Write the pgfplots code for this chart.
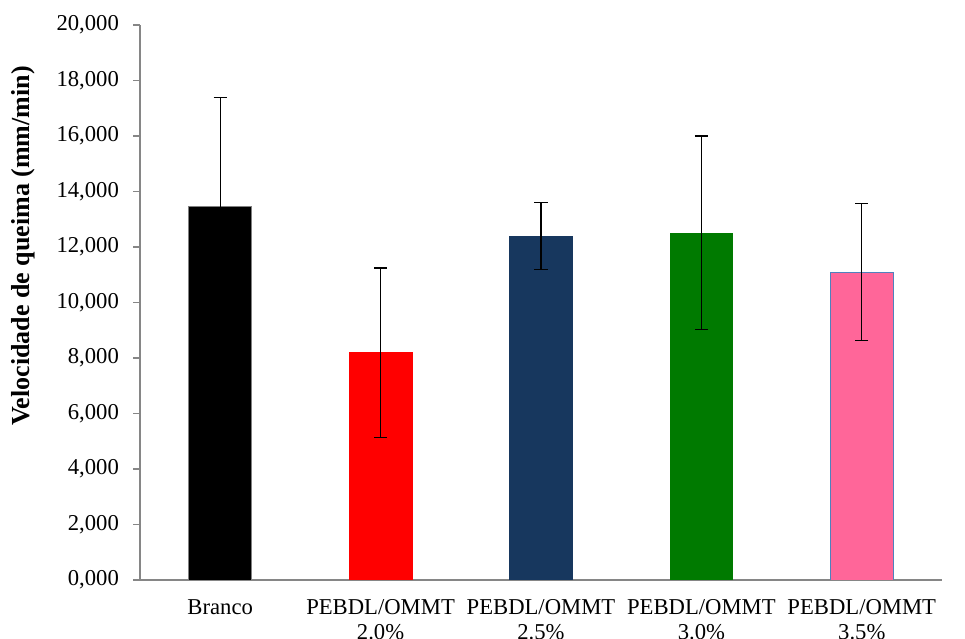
\documentclass[border=0pt]{standalone}
\usepackage{pgfplots}
\pgfplotsset{compat=1.18}
\usepackage{fontspec}
\setmainfont{Liberation Serif}
\definecolor{axgray}{RGB}{134,134,134}
\definecolor{cnavy}{RGB}{23,55,94}
\definecolor{cgreen}{RGB}{0,122,0}
\definecolor{cpink}{RGB}{255,102,153}
\definecolor{cpinkedge}{RGB}{79,129,189}
\begin{document}
\fontsize{17}{19}\selectfont
\begin{tikzpicture}
\begin{axis}[
  name=ax,
  scale only axis,
  width=601.5pt, height=416.25pt,
  xmin=-0.5, xmax=4.5,
  ymin=0, ymax=20,
  ytick distance=2,
  xtick={0,1,2,3,4},
  xticklabels={Branco, {PEBDL/OMMT\\2.0\%}, {PEBDL/OMMT\\2.5\%}, {PEBDL/OMMT\\3.0\%}, {PEBDL/OMMT\\3.5\%}},
  xticklabel style={align=center, font=\fontsize{17}{18.5}\selectfont, yshift=-4pt},
  x tick style={draw=none},
  axis x line*=bottom, axis y line*=left,
  axis line style={draw=axgray, line width=0.9pt},
  y tick style={draw=axgray, line width=0.9pt},
  tick align=outside, major tick length=5pt,
  yticklabel style={font=\fontsize{17}{19}\selectfont, xshift=-5pt, /pgf/number format/.cd, fixed, fixed zerofill, precision=3, use comma, 1000 sep={}},
  /pgf/number format/assume math mode=true,
  ylabel={\bfseries Velocidade de queima (mm/min)},
  ylabel style={at={(axis description cs:-0.146,0.602)}, anchor=center, font=\fontsize{19.5}{21}\selectfont},
  ybar, bar width=47pt, /pgf/bar shift=0pt,
  error bars/y dir=both, error bars/y explicit,
  error bars/error bar style={black, line width=0.9pt},
  error bars/error mark options={rotate=90, mark size=4.9pt, black, line width=0.9pt},
]
\addplot[fill=black, draw=gray, line width=0.6pt] coordinates {(0,13.46) +- (0,3.94)};
\addplot[fill=red, draw=red] coordinates {(1,8.19) +- (0,3.05)};
\addplot[fill=cnavy, draw=cnavy] coordinates {(2,12.39) +- (0,1.20)};
\addplot[fill=cgreen, draw=cgreen] coordinates {(3,12.51) +- (0,3.49)};
\addplot[fill=cpink, draw=cpinkedge, line width=0.6pt] coordinates {(4,11.09) +- (0,2.47)};
\end{axis}
\pgfresetboundingbox
\useasboundingbox ([shift={(-105pt,-44.25pt)}]ax.south west) rectangle ([shift={(618.75pt,435pt)}]ax.south west);
\end{tikzpicture}
\end{document}
